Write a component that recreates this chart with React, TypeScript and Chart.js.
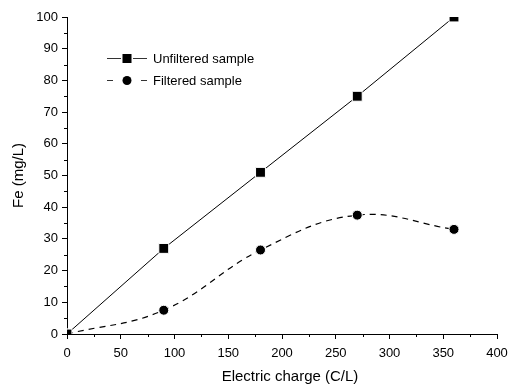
import React, { useEffect, useRef } from "react";
import { Chart, registerables } from "chart.js";

Chart.register(...registerables);

const charges = [0, 90, 180, 270, 360];
const unfiltered = [0, 27, 51, 75, 100];
const filtered = [0, 7.5, 26.5, 37.5, 33];
const seriesNames = ["Unfiltered sample", "Filtered sample"];
const xTitle = "Electric charge (C/L)";
const yTitle = "Fe (mg/L)";

const FONT = "'Liberation Sans', Arial, sans-serif";

const minorTicks = {
  id: "minorTicks",
  afterDraw(chart: any) {
    const ctx = chart.ctx;
    const xs = chart.scales.x;
    const ys = chart.scales.y;
    ctx.save();
    ctx.strokeStyle = "#000";
    ctx.lineWidth = 1;
    ctx.beginPath();
    for (let v = 25; v < 400; v += 50) {
      const px = Math.round(xs.getPixelForValue(v)) + 0.5;
      ctx.moveTo(px, ys.bottom);
      ctx.lineTo(px, ys.bottom + 3);
    }
    for (let v = 5; v < 100; v += 10) {
      const py = Math.round(ys.getPixelForValue(v)) + 0.5;
      ctx.moveTo(xs.left, py);
      ctx.lineTo(xs.left - 3, py);
    }
    ctx.stroke();
    ctx.fillStyle = "#000";
    ctx.font = `15px ${FONT}`;
    ctx.textAlign = "center";
    ctx.textBaseline = "middle";
    ctx.fillText(xTitle, 290, 377);
    ctx.translate(18.5, (ys.top + ys.bottom) / 2);
    ctx.rotate(-Math.PI / 2);
    ctx.fillText(yTitle, 0, 0);
    ctx.restore();
  },
};

const customLegend = {
  id: "customLegend",
  afterDraw(chart: any) {
    const ctx = chart.ctx;
    ctx.save();
    ctx.strokeStyle = "#333";
    ctx.fillStyle = "#000";
    ctx.lineWidth = 1;
    ctx.font = `13px ${FONT}`;
    ctx.textBaseline = "middle";
    const x0 = 107, x1 = 147, xc = 127, tx = 153;
    const rows = [58, 80];
    ctx.beginPath();
    ctx.moveTo(x0, rows[0] + 0.5);
    ctx.lineTo(xc - 6, rows[0] + 0.5);
    ctx.moveTo(xc + 6, rows[0] + 0.5);
    ctx.lineTo(x1, rows[0] + 0.5);
    ctx.stroke();
    ctx.fillRect(xc - 4.5, rows[0] - 4, 9, 9);
    ctx.fillText(seriesNames[0], tx, rows[0] + 1);
    ctx.beginPath();
    ctx.moveTo(x0, rows[1] + 0.5);
    ctx.lineTo(x0 + 6, rows[1] + 0.5);
    ctx.moveTo(x1 - 6, rows[1] + 0.5);
    ctx.lineTo(x1, rows[1] + 0.5);
    ctx.stroke();
    ctx.beginPath();
    ctx.arc(xc, rows[1] + 0.5, 4.5, 0, Math.PI * 2);
    ctx.fill();
    ctx.fillText(seriesNames[1], tx, rows[1] + 1);
    ctx.restore();
  },
};

export default function App() {
  const ref = useRef<HTMLCanvasElement>(null);
  useEffect(() => {
    document.body.style.margin = "0";
    const chart = new Chart(ref.current!, {
      type: "line",
      data: {
        datasets: [
          {
            label: seriesNames[0],
            data: charges.map((c, i) => ({ x: c, y: unfiltered[i] })),
            borderColor: "#000",
            backgroundColor: "#000",
            borderWidth: 1,
            pointStyle: "rect",
            pointRadius: 7,
            pointBorderColor: "#fff",
            pointBorderWidth: 1,
            tension: 0,
          },
          {
            label: seriesNames[1],
            data: charges.map((c, i) => ({ x: c, y: filtered[i] })),
            borderColor: "#000",
            backgroundColor: "#000",
            borderWidth: 1.2,
            borderDash: [6, 5],
            pointStyle: "circle",
            pointRadius: 5,
            pointBorderColor: "#fff",
            pointBorderWidth: 1,
            tension: 0.4,
          },
        ],
      },
      options: {
        animation: false,
        responsive: false,
        layout: { padding: { top: 17, right: 12, left: 0, bottom: 0 } },
        plugins: { legend: { display: false }, tooltip: { enabled: false } },
        scales: {
          x: {
            type: "linear",
            min: 0,
            max: 400,
            ticks: { stepSize: 50, color: "#000", font: { family: FONT, size: 13 }, padding: 7, maxRotation: 0 },
            grid: { display: true, drawOnChartArea: false, drawTicks: true, tickLength: 5, color: "#000" },
            border: { display: true, color: "#000", width: 1 },
            title: { display: false, text: xTitle },
            afterFit: (s: any) => { s.height = 51; s.paddingLeft = 0; s.paddingRight = 0; },
          },
          y: {
            type: "linear",
            min: 0,
            max: 100,
            ticks: { stepSize: 10, color: "#000", font: { family: FONT, size: 13 }, padding: 4 },
            grid: { display: true, drawOnChartArea: false, drawTicks: true, tickLength: 5, color: "#000" },
            border: { display: true, color: "#000", width: 1 },
            title: { display: false, text: yTitle },
            afterFit: (s: any) => { s.width = 67; s.paddingTop = 0; s.paddingBottom = 0; },
          },
        },
      },
      plugins: [minorTicks, customLegend],
    });
    return () => chart.destroy();
  }, []);
  return (
    <div style={{ width: 509, height: 385, background: "#fff" }}>
      <canvas ref={ref} width={509} height={385} />
    </div>
  );
}
